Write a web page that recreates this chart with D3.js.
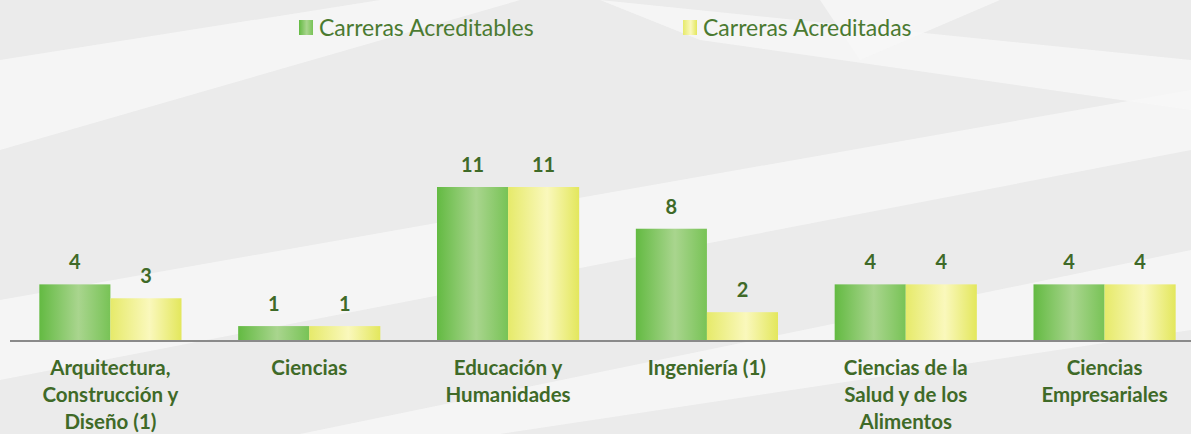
<!DOCTYPE html>
<html>
<head>
<meta charset="utf-8">
<title>Carreras Acreditables / Acreditadas</title>
<script src="https://cdn.jsdelivr.net/npm/d3@7"></script>
<style>
  body { margin: 0; background: #ececec; }
  svg { display: block; }
  .legend text { font: 23px 'Lato', sans-serif; fill: #4b7a31; }
  .val { font: bold 20px 'Lato', sans-serif; fill: #3f6a28; text-anchor: middle; }
  .cat { font: bold 20.5px 'Lato', sans-serif; fill: #3f6a28; text-anchor: middle; }
</style>
</head>
<body>
<svg id="chart" width="1191" height="434"></svg>
<script>
  // data
  var categorias = [
    ["Arquitectura,", "Construcción y", "Diseño (1)"],
    ["Ciencias"],
    ["Educación y", "Humanidades"],
    ["Ingeniería (1)"],
    ["Ciencias de la", "Salud y de los", "Alimentos"],
    ["Ciencias", "Empresariales"]
  ];
  var series = ["Carreras Acreditables", "Carreras Acreditadas"];
  var acreditables = [4, 1, 11, 8, 4, 4];
  var acreditadas = [3, 1, 11, 2, 4, 4];

  var svg = d3.select("#chart"),
      width = +svg.attr("width"),
      height = +svg.attr("height");

  // faint watermark shapes in the background
  var bg = svg.append("g");
  bg.append("rect").attr("width", width).attr("height", height).attr("fill", "#ebebeb");
  var shapes = [
    "M0,60 L380,0 L520,0 L0,150 Z",
    "M0,300 L1191,90 L1191,150 L0,380 Z",
    "M600,0 L1191,60 L1191,110 L700,40 Z",
    "M300,434 L1191,250 L1191,330 L500,434 Z",
    "M820,0 L1000,0 L860,60 Z"
  ];
  bg.selectAll("path").data(shapes).enter().append("path")
    .attr("d", function(d) { return d; })
    .attr("fill", "#f7f7f7").attr("opacity", 0.8);

  var defs = svg.append("defs");
  function grad(id, stops) {
    var g = defs.append("linearGradient").attr("id", id)
      .attr("x1", "0%").attr("x2", "100%").attr("y1", "0%").attr("y2", "0%");
    g.selectAll("stop").data(stops).enter().append("stop")
      .attr("offset", function(d) { return d[0]; })
      .attr("stop-color", function(d) { return d[1]; });
  }
  grad("gGreen", [["0%", "#63ba42"], ["55%", "#a9d58e"], ["100%", "#78c356"]]);
  grad("gYellow", [["0%", "#e6ea6a"], ["55%", "#faf8bc"], ["100%", "#e3e75c"]]);
  var fills = ["url(#gGreen)", "url(#gYellow)"];

  var baseY = 340;

  var x0 = d3.scaleBand()
      .domain(d3.range(categorias.length))
      .range([11, 1204])
      .paddingInner(0.285)
      .paddingOuter(0.1425);

  var x1 = d3.scaleBand()
      .domain([0, 1])
      .range([0, x0.bandwidth()]);

  var y = d3.scaleLinear()
      .domain([0, 11])
      .range([baseY, 187]);

  var grupos = svg.append("g").selectAll("g")
    .data(categorias.map(function(c, i) { return [acreditables[i], acreditadas[i]]; }))
    .enter().append("g")
      .attr("transform", function(d, i) { return "translate(" + x0(i) + ",0)"; });

  grupos.selectAll("rect")
    .data(function(d) { return d; })
    .enter().append("rect")
      .attr("x", function(d, j) { return x1(j); })
      .attr("y", function(d) { return y(d); })
      .attr("width", x1.bandwidth())
      .attr("height", function(d) { return baseY - y(d); })
      .attr("fill", function(d, j) { return fills[j]; });

  grupos.selectAll("text")
    .data(function(d) { return d; })
    .enter().append("text")
      .attr("class", "val")
      .attr("x", function(d, j) { return x1(j) + x1.bandwidth() / 2; })
      .attr("y", function(d) { return y(d) - 15; })
      .text(function(d) { return d; });

  // axis line
  svg.append("line")
    .attr("x1", 10).attr("x2", width)
    .attr("y1", baseY + 1).attr("y2", baseY + 1)
    .attr("stroke", "#8a8a8a").attr("stroke-width", 2);

  // category labels
  var cats = svg.append("g").selectAll("text")
    .data(categorias)
    .enter().append("text")
      .attr("class", "cat")
      .attr("x", function(d, i) { return x0(i) + x0.bandwidth() / 2; })
      .attr("y", 375);
  cats.selectAll("tspan")
    .data(function(d) { return d; })
    .enter().append("tspan")
      .attr("x", function() { return d3.select(this.parentNode).attr("x"); })
      .attr("dy", function(d, k) { return k === 0 ? 0 : 27; })
      .text(function(d) { return d; });

  // legend
  var legX = [299, 683];
  var legend = svg.append("g").attr("class", "legend")
    .selectAll("g").data(series).enter().append("g")
      .attr("transform", function(d, i) { return "translate(" + legX[i] + ",20)"; });
  legend.append("rect")
    .attr("width", 14).attr("height", 15)
    .attr("fill", function(d, i) { return fills[i]; });
  legend.append("text")
    .attr("x", 20).attr("y", 16)
    .text(function(d) { return d; });
</script>
</body>
</html>
